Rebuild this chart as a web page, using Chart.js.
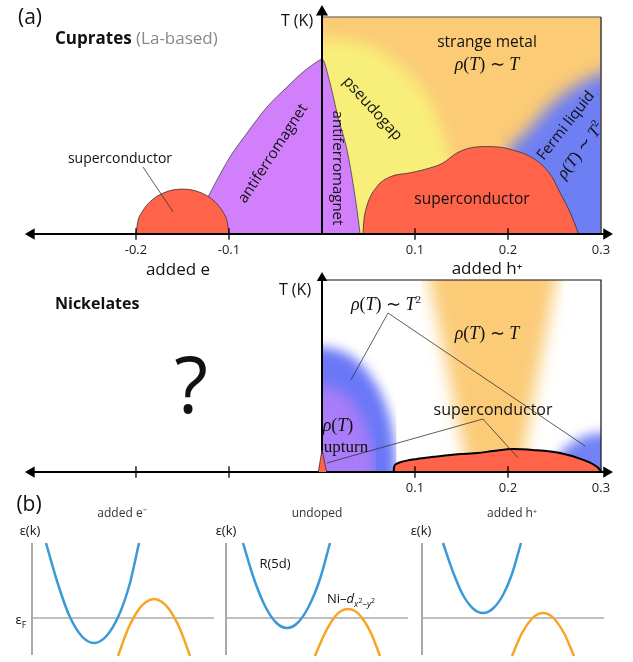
<!DOCTYPE html>
<html>
<head>
<meta charset="utf-8">
<script src="https://cdn.jsdelivr.net/npm/chart.js@4.4.1/dist/chart.umd.min.js"></script>
<style>
  html, body { margin: 0; padding: 0; background: #fff; }
  #fig { position: relative; width: 633px; height: 662px; overflow: hidden; font-family: "Open Sans", sans-serif; color: #111; }
  #fig canvas { position: absolute; }
  .lb { position: absolute; white-space: nowrap; line-height: 1; }
  .tex { font-family: "Liberation Serif", serif; }
  .tex sup { font-size: 0.62em; vertical-align: 0.6em; line-height: 0; }
</style>
</head>
<body>
<div id="fig">
  <canvas id="cuprates" width="633" height="282" style="left:0;top:0"></canvas>
  <canvas id="nickelates" width="633" height="238" style="left:0;top:262px"></canvas>
  <canvas id="bandE" width="215" height="122" style="left:0;top:540px"></canvas>
  <canvas id="bandU" width="215" height="122" style="left:200px;top:540px"></canvas>
  <canvas id="bandH" width="223" height="122" style="left:410px;top:540px"></canvas>
</div>
<script>
// doping axis shared by both phase diagrams (negative = added e, positive = added h+)
const dopingTicks = [-0.2, -0.1, 0.1, 0.2, 0.3];
const dopingMarks = [-0.2, -0.1, 0.1, 0.2];

// cuprates, [doping, T] with T in frame units (frame top = 100)
const cupStrangeMetal = [[0, 100], [0.3, 100]];
const cupPseudogap = [[-0.02, 91], [0, 90], [0.03, 89], [0.055, 86], [0.08, 79], [0.1, 71], [0.115, 62],
  [0.125, 52], [0.133, 42], [0.14, 32], [0.145, 18], [0.148, 0]];
const cupFermiLiquid = [[0.192, 0], [0.2, 36], [0.213, 44], [0.23, 52], [0.25, 61], [0.28, 70], [0.3, 74], [0.33, 77]];
const cupAFM = [[-0.1226, 17], [-0.1129, 24.9], [-0.0989, 35.5], [-0.0806, 46.5], [-0.0591, 58.5],
  [-0.0376, 67.7], [-0.0204, 74.6], [-0.0022, 80.2], [0, 80.6], [0.0086, 69.6], [0.0172, 53.9],
  [0.0269, 38.7], [0.0333, 23.5], [0.0387, 7.8], [0.041, 0]];
const cupSCe = [[-0.2, 0], [-0.198, 5.8], [-0.194, 9.8], [-0.185, 14.8], [-0.17, 19], [-0.15, 20.7],
  [-0.13, 19], [-0.115, 14.8], [-0.106, 9.8], [-0.102, 5.8], [-0.1, 0]];
const cupSCh = [[0.044, 0], [0.045, 6], [0.048, 12.5], [0.059, 21.8], [0.073, 26.3], [0.095, 28.2], [0.116, 30.4],
  [0.13, 32.7], [0.145, 37.3], [0.159, 39.6], [0.177, 40.3], [0.195, 39.8], [0.205, 38.7], [0.22, 36.5],
  [0.234, 32.7], [0.247, 26.5], [0.256, 19], [0.267, 9.7], [0.276, 0]];
const cupSCPointer = [[-0.1925, 30.9], [-0.16, 10.1]];

// nickelates, same units
const nicLinearT = [[0.1066, 120], [0.115, 100], [0.136, 50], [0.159, -5], [0.211, -5], [0.232, 50], [0.252, 100], [0.26, 120]];
const nicT2Left = [[-0.03, 66], [0, 65], [0.02, 63], [0.04, 57], [0.055, 48], [0.066, 38], [0.074, 26], [0.078, 14], [0.08, 0]];
const nicUpturnGlow = [[-0.03, 45], [0, 45], [0.015, 43], [0.03, 38], [0.042, 30], [0.05, 20], [0.055, 10], [0.058, 0]];
const nicT2Right = [[0.245, 0], [0.255, 9], [0.268, 15], [0.285, 19], [0.3, 20.5], [0.33, 21]];
const nicSC = [[0.077, 0], [0.0775, 2.5], [0.08, 4.2], [0.09, 5.8], [0.102, 6.8], [0.12, 7.9], [0.138, 8.9],
  [0.155, 9.5], [0.167, 9.9], [0.184, 10.9], [0.205, 12], [0.227, 11.5], [0.256, 9.9], [0.281, 6.3],
  [0.296, 2.6], [0.301, 0]];
const nicUpturn = [[-0.004, 0], [0, 11.5], [0.005, 0]];
const nicT2Pointer = [[0.031, 47.9], [0.071, 82.8], [0.283, 13.5]];
const nicSCPointer = [[0.0054, 4.7], [0.173, 27.6], [0.211, 7.3]];

// (b) bands, [k, energy] with energy 0 = Fermi level
const r5dAddedE = [[1.4, 7.5], [2.5, 3.7], [3.7, 0.3], [5.0, -1.85], [6.2, -2.5], [7.4, -1.85], [8.7, 0.3], [9.8, 3.5], [10.7, 7.5]];
const niAddedE = [[8.6, -3.8], [9.6, -1.1], [10.7, 0.9], [11.4, 1.6], [12.2, 1.9], [13.0, 1.6], [13.7, 0.9], [14.8, -1.1], [15.8, -3.8]];
const r5dUndoped = [[1.7, 7.5], [2.8, 3.9], [3.9, 1.2], [5.0, -0.45], [6.1, -1.0], [7.2, -0.45], [8.3, 1.2], [9.4, 3.9], [10.4, 7.5]];
const niUndoped = [[8.9, -3.8], [9.9, -1.5], [10.9, 0.15], [11.5, 0.7], [12.2, 0.9], [12.9, 0.7], [13.5, 0.15], [14.5, -1.5], [15.4, -3.8]];
const r5dAddedH = [[2.1, 7.5], [3.1, 4.6], [4.1, 2.3], [5.1, 0.95], [6.1, 0.5], [7.1, 0.95], [8.1, 2.3], [9.0, 4.4], [9.9, 7.5]];
const niAddedH = [[9.0, -3.8], [10.0, -1.5], [11.0, -0.05], [11.6, 0.38], [12.1, 0.5], [12.6, 0.38], [13.2, -0.05], [14.2, -1.5], [15.2, -3.8]];
const fermiLevel = [[0, 0], [18.2, 0]];
const energyAxis = [[0, -3.7], [0, 7.5]];

// soft edged regions: blur the fill, so this has to run before the filler plugin
const softEdges = {
  id: 'softEdges',
  beforeDatasetDraw(chart, args) {
    const ds = chart.data.datasets[args.index];
    if (!ds.blur) return;
    const {ctx, scales: {x, y}} = chart;
    ctx.save();
    const [x0, x1, y0, y1] = ds.clipTo;
    const l = x.getPixelForValue(x0), r = x.getPixelForValue(x1);
    const t = y.getPixelForValue(y1), b = y.getPixelForValue(y0);
    ctx.beginPath();
    ctx.rect(l, t, r - l, b - t);
    ctx.clip();
    ctx.filter = 'blur(' + ds.blur + 'px)';
  },
  afterDatasetDraw(chart, args) {
    if (chart.data.datasets[args.index].blur) chart.ctx.restore();
  }
};
const filler = Chart.registry.getPlugin('filler');
Chart.unregister(filler);
Chart.register(softEdges, filler);

const pts = a => a.map(([x, y]) => ({x, y}));

function curve(a, color, width, more) {
  return Object.assign({data: pts(a), borderColor: color, borderWidth: width, backgroundColor: color,
    fill: false, pointRadius: 0, tension: 0}, more || {});
}
function region(a, fillColor, edgeColor, edgeWidth) {
  return curve(a, edgeColor, edgeWidth, {backgroundColor: fillColor, fill: 'origin', cubicInterpolationMode: 'monotone'});
}
function glow(a, color, blur, base, smooth) {
  return curve(a, color, 0, {fill: {value: base}, blur, clipTo: [0, 0.3, 0, 100],
    cubicInterpolationMode: smooth === false ? 'default' : 'monotone'});
}
function axes(yTop, r) {
  return [
    curve([[-0.3124, 0], [0.3059, 0]], '#000', 2.2, {pointStyle: 'triangle', pointRadius: 6.5,
      pointRotation: [-90, 90], pointBackgroundColor: '#000', pointBorderWidth: 0}),
    curve([[0, 0], [0, yTop]], '#000', 2, {pointStyle: 'triangle', pointRadius: [0, r],
      pointBackgroundColor: '#000', pointBorderWidth: 0}),
    curve(dopingMarks.map(v => [v, 0]), '#000', 0, {showLine: false, pointStyle: 'line', pointRadius: 5.8,
      pointRotation: 90, pointBorderColor: '#000', pointBorderWidth: 1.3})
  ];
}
const frame = [[0, 100], [0.3, 100], [0.3, 0]];

function options(xr, yr, labelNeg) {
  const x = {type: 'linear', min: xr[0], max: xr[1], display: false};
  if (labelNeg !== undefined) {
    Object.assign(x, {
      display: true, bounds: 'data', position: {y: 0},
      border: {display: false}, grid: {display: false, drawTicks: false},
      afterBuildTicks: s => { s.ticks = dopingTicks.map(v => ({value: v})); },
      ticks: {autoSkip: false, maxRotation: 0, padding: 8, color: '#222',
        font: {family: 'Open Sans', size: 13}, callback: v => (v < 0 && !labelNeg ? '' : String(v))}
    });
  }
  return {
    responsive: false, animation: false, events: [],
    layout: {padding: 0, autoPadding: false},
    plugins: {legend: {display: false}, tooltip: {enabled: false}},
    elements: {point: {radius: 0}},
    scales: {x, y: {type: 'linear', min: yr[0], max: yr[1], display: false}}
  };
}
function make(id, datasets, opts) {
  datasets.forEach((d, i) => { d.order = datasets.length - i; });   // later in list = drawn on top
  return new Chart(document.getElementById(id), {type: 'line', data: {datasets}, options: opts});
}

const red = '#FF634A', purple = '#D17FFA', orange = '#FBCB76', yellow = '#F8EF7A', blue = '#6E7EF3';

make('cuprates', [
  region(cupStrangeMetal, orange, orange, 0),
  glow(cupPseudogap, yellow, 8, -20),
  glow(cupFermiLiquid, blue, 8, -20),
  region(cupAFM, purple, '#444', 0.8),
  region(cupSCe, red, '#333', 0.8),
  region(cupSCh, red, '#333', 0.8),
  curve(frame, '#555', 1),
  curve(cupSCPointer, '#333', 0.8),
  ...axes(102.3, 7)
], options([-0.3462, 0.3344], [-22.12, 107.83], true));

make('nickelates', [
  glow(nicLinearT, '#FBCB78', 8, 120, false),
  glow(nicT2Left, '#6A78F7', 6, -20),
  glow(nicUpturnGlow, '#A97CF8', 7, -20),
  glow(nicT2Right, '#7282F4', 6, -20),
  region(nicSC, red, '#000', 2),
  curve(frame, '#111', 1.2),
  curve(nicT2Pointer, '#333', 0.8),
  curve(nicSCPointer, '#333', 0.8),
  ...axes(101, 6),
  curve(nicUpturn, '#333', 0.8, {backgroundColor: red, fill: 'origin'})
], options([-0.3462, 0.3344], [-14.58, 109.375], false));

const bandBlue = '#3B9AD6', bandOrange = '#F6A623';
function bandPanel(id, xr, r5d, ni) {
  make(id, [
    curve(energyAxis, '#555', 1),
    curve(fermiLevel, '#AAA', 1.5),
    curve(r5d, bandBlue, 2.5, {cubicInterpolationMode: 'monotone'}),
    curve(ni, bandOrange, 2.5, {cubicInterpolationMode: 'monotone'})
  ], options(xr, [-4.4, 7.8]));
}
bandPanel('bandE', [-3.2, 18.3], r5dAddedE, niAddedE);
bandPanel('bandU', [-2.6, 18.9], r5dUndoped, niUndoped);
bandPanel('bandH', [-1.2, 21.1], r5dAddedH, niAddedH);

// text
const fig = document.getElementById('fig');
function lab(html, x, y, size, o) {
  o = o || {};
  const d = document.createElement('div');
  d.className = 'lb' + (o.tex ? ' tex' : '');
  d.innerHTML = html;
  d.style.left = x + 'px';
  d.style.top = y + 'px';
  d.style.fontSize = size + 'px';
  d.style.transform = (o.left ? 'translate(0,-50%)' : 'translate(-50%,-50%)') + (o.rot ? ' rotate(' + o.rot + 'deg)' : '');
  if (o.color) d.style.color = o.color;
  if (o.bold) d.style.fontWeight = 'bold';
  fig.appendChild(d);
}
const rho = sq => '<i>ρ</i>(<i>T</i>) ∼ <i>T</i>' + (sq ? '<sup>2</sup>' : '');

lab('(a)', 30, 16, 21);
lab('<b>Cuprates</b> <span style="color:#888">(La-based)</span>', 55, 37, 17, {left: true});
lab('T (K)', 297, 20, 16);
lab('superconductor', 120, 158, 14);
lab('antiferromagnet', 272, 153, 15, {rot: -57});
lab('antiferromagnet', 338, 168, 15, {rot: 90});
lab('pseudogap', 373, 108, 15.5, {rot: 48});
lab('strange metal', 487, 42, 15.5);
lab(rho(false), 487, 64, 18, {tex: true});
lab('superconductor', 472, 199, 15.5);
lab('Fermi liquid', 565, 125, 15, {rot: -52});
lab(rho(true), 580, 150, 17, {tex: true, rot: -53});
lab('added e', 178, 268, 17);
lab('added h⁺', 487, 267, 17);

lab('T (K)', 295, 289, 16);
lab('Nickelates', 55, 303, 16, {left: true, bold: true});
lab('?', 191, 383, 78);
lab(rho(true), 386, 304, 18, {tex: true});
lab(rho(false), 487, 333, 18, {tex: true});
lab('superconductor', 493, 409, 16);
lab('<i>ρ</i>(<i>T</i>)', 338, 425, 18, {tex: true});
lab('upturn', 346, 446, 17, {tex: true});

lab('(b)', 29, 503, 21);
lab('added e⁻', 122, 513, 12, {color: '#333'});
lab('undoped', 317, 513, 12, {color: '#333'});
lab('added h⁺', 512, 513, 12, {color: '#333'});
lab('ε(k)', 30, 530, 13);
lab('ε(k)', 226, 530, 13);
lab('ε(k)', 421, 530, 13);
lab('ε<sub style="font-size:9px">F</sub>', 21, 621, 13);
lab('R(5d)', 275, 563, 13);
lab('Ni–<i>d</i><sub style="font-size:9px"><i>x</i><sup style="font-size:7px">2</sup>–<i>y</i><sup style="font-size:7px">2</sup></sub>', 327, 600, 13, {left: true});
</script>
</body>
</html>
